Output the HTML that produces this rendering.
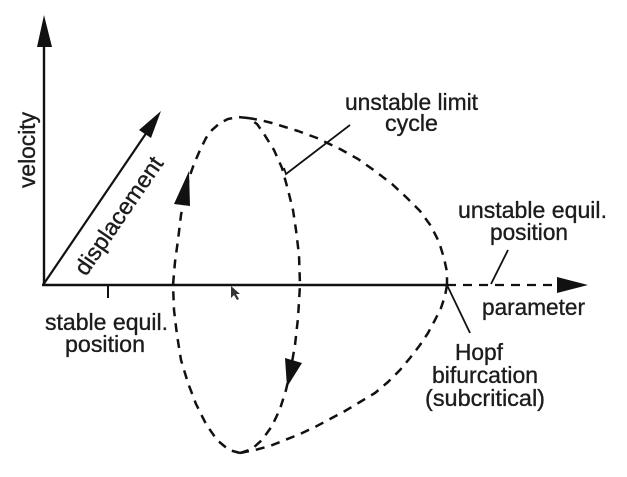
<!DOCTYPE html>
<html>
<head>
<meta charset="utf-8">
<style>
  html,body{margin:0;padding:0;background:#fff;}
  svg{display:block;}
  text{font-family:"Liberation Sans",Arial,sans-serif;font-size:23px;fill:#1c1c1c;stroke:#1c1c1c;stroke-width:0.35;}
</style>
</head>
<body>
<svg width="627" height="477" viewBox="0 0 627 477" xmlns="http://www.w3.org/2000/svg">
  <rect width="627" height="477" fill="#fff"/>

  <!-- vertical axis -->
  <line x1="44" y1="286" x2="44" y2="44" stroke="#111" stroke-width="2.4"/>
  <polygon points="44,15 37,47 52,47" fill="#111"/>

  <!-- horizontal axis solid -->
  <line x1="42" y1="285" x2="447" y2="285" stroke="#111" stroke-width="2.6"/>
  <!-- dashed continuation -->
  <line x1="447" y1="285" x2="558" y2="285" stroke="#111" stroke-width="2.2" stroke-dasharray="9 7"/>
  <polygon points="588,285 557,277 557,293" fill="#111"/>

  <!-- tick -->
  <line x1="108" y1="285" x2="108" y2="298" stroke="#111" stroke-width="2"/>

  <!-- displacement arrow -->
  <line x1="43" y1="285" x2="147" y2="132" stroke="#111" stroke-width="2.2"/>
  <polygon points="161,111 151,138 139,130" fill="#111"/>

  <!-- limit cycle dashed curves -->
  <g fill="none" stroke="#111" stroke-width="2.5" stroke-dasharray="9 7" stroke-linejoin="round">
    <polyline points="248,118 238,117 228,119 220,123 212,130 206,138 200,150 194,164 189,178 185,195 181,215 178,240 175,262 173,285 174,310 177,335 181,360 188,383 196,404 206,424 217,440 229,450 240,453"/>
    <polyline points="240,453 252,449 262,440 272,426 280,409 286,390 291,368 295,345 298,318 300,285 299,255 296,230 293,210 288,190 282,168 274,150 264,134 257,124 248,118"/>
    <polyline points="248,118 260,120 272,123 285,127 298,131 317,138 340,149 358,159 375,171 392,184 407,198 420,211 431,226 439,242 444,258 447,272 447,285"/>
    <polyline points="447,285 445,296 441,308 435,320 428,333 420,345 410,358 400,370 388,382 375,393 360,402 345,411 330,419 315,427 300,434 285,440 270,446 255,450 240,453"/>
  </g>

  <!-- arrowheads on cycle -->
  <polygon points="189,171 174,204 190,206" fill="#111"/>
  <polygon points="287,387 285,358 302,363" fill="#111"/>

  <!-- leader lines -->
  <polyline points="284,168 286,174 350,125" fill="none" stroke="#111" stroke-width="1.8"/>
  <line x1="508" y1="250" x2="491" y2="284" stroke="#111" stroke-width="1.8"/>
  <line x1="447" y1="285" x2="470" y2="333" stroke="#111" stroke-width="1.8"/>

  <!-- cursor -->
  <polygon points="231,286 231,298 234,295 237,300 239,299 236,294 240,294" fill="#333"/>

  <!-- labels -->
  <text transform="translate(35,188) rotate(-90)" textLength="76" lengthAdjust="spacingAndGlyphs">velocity</text>
  <text transform="translate(86,277) rotate(-55.5)" textLength="138" lengthAdjust="spacingAndGlyphs">displacement</text>

  <text x="345" y="110" textLength="133" lengthAdjust="spacingAndGlyphs">unstable limit</text>
  <text x="385" y="131" textLength="53" lengthAdjust="spacingAndGlyphs">cycle</text>

  <text x="458" y="218" textLength="149" lengthAdjust="spacingAndGlyphs">unstable equil.</text>
  <text x="490" y="240" textLength="78" lengthAdjust="spacingAndGlyphs">position</text>

  <text x="482" y="315" textLength="103" lengthAdjust="spacingAndGlyphs">parameter</text>

  <text x="45" y="330" textLength="123" lengthAdjust="spacingAndGlyphs">stable equil.</text>
  <text x="65" y="352" textLength="80" lengthAdjust="spacingAndGlyphs">position</text>

  <text x="455" y="360" textLength="48" lengthAdjust="spacingAndGlyphs">Hopf</text>
  <text x="432" y="383" textLength="106" lengthAdjust="spacingAndGlyphs">bifurcation</text>
  <text x="425" y="406" textLength="120" lengthAdjust="spacingAndGlyphs">(subcritical)</text>
</svg>
</body>
</html>
